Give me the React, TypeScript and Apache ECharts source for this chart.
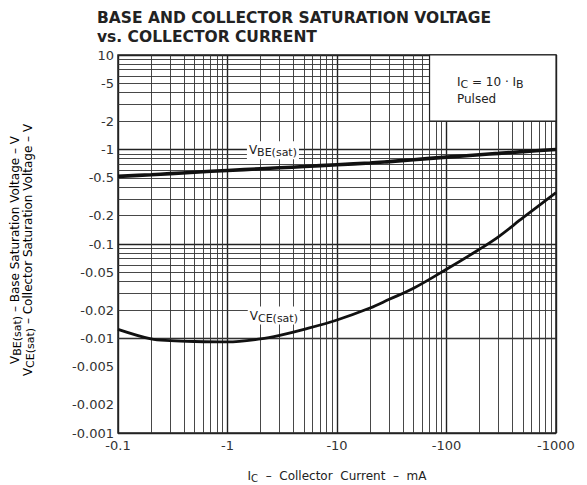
import React, { useEffect, useRef } from 'react';
import * as echarts from 'echarts';

// Collector current (mA, magnitude)
const currents = [0.1, 0.2, 0.3, 0.5, 1, 2, 3, 5, 10, 20, 30, 50, 100, 200, 300, 500, 1000];
// VBE(sat) (V, magnitude)
const vbeSat = [0.52, 0.54, 0.555, 0.575, 0.6, 0.625, 0.64, 0.66, 0.69, 0.72, 0.745, 0.78, 0.83, 0.88, 0.91, 0.95, 1.0];
// VCE(sat) (V, magnitude)
const vceSat = [0.0125, 0.0099, 0.0095, 0.0093, 0.0092, 0.0099, 0.0108, 0.0125, 0.0157, 0.021, 0.026, 0.034, 0.054, 0.088, 0.12, 0.19, 0.35];

const xTickValues = [0.1, 1, 10, 100, 1000];
const xTickLabels = ['-0.1', '-1', '-10', '-100', '-1000'];
const yTickValues = [0.001, 0.002, 0.005, 0.01, 0.02, 0.05, 0.1, 0.2, 0.5, 1, 2, 5, 10];
const yTickLabels = ['-0.001', '-0.002', '-0.005', '-0.01', '-0.02', '-0.05', '-0.1', '-0.2', '-0.5', '-1', '-2', '-5', '10'];

const xDecades = [0.1, 1, 10, 100];
const yDecades = [0.001, 0.01, 0.1, 1];
const minorSteps = [2, 3, 4, 5, 6, 7, 8, 9];

const FONT = 'DejaVu Sans';
const INK = '#222';

function nearestLabel(v: number, values: number[], labels: string[]) {
  let best = 0;
  let bd = Infinity;
  values.forEach((t, i) => {
    const d = Math.abs(Math.log10(v) - Math.log10(t));
    if (d < bd) { bd = d; best = i; }
  });
  return bd < 0.01 ? labels[best] : '';
}

export default function App() {
  const ref = useRef<HTMLDivElement>(null);

  useEffect(() => {
    if (!ref.current) return;
    const chart = echarts.init(ref.current, undefined, { renderer: 'svg' });

    const minorX: any[] = [];
    xDecades.forEach((d) => minorSteps.forEach((m) => minorX.push({ xAxis: Number((d * m).toPrecision(6)) })));
    const minorY: any[] = [];
    yDecades.forEach((d) => minorSteps.forEach((m) => minorY.push({ yAxis: Number((d * m).toPrecision(6)) })));

    const subRich = {
      v: { fontSize: 12, fontFamily: FONT, color: INK },
      s: { fontSize: 11, fontFamily: FONT, color: INK, padding: [5, 0, 0, 0] },
      t: { fontSize: 12, fontFamily: FONT, color: INK },
    };

    const titleStyle = { fontFamily: FONT, fontSize: 15.5, fontWeight: 'bold', color: INK, lineHeight: 16 };

    chart.setOption({
      animation: false,
      backgroundColor: '#fff',
      title: {
        text: 'BASE AND COLLECTOR SATURATION VOLTAGE',
        subtext: 'vs. COLLECTOR CURRENT',
        left: 92,
        top: 5,
        itemGap: 3,
        textStyle: titleStyle,
        subtextStyle: titleStyle,
      },
      grid: {
        left: 118, right: 31, top: 55, bottom: 52,
        outerBoundsMode: 'none',
        containLabel: false,
        show: true, borderColor: INK, borderWidth: 1.5, backgroundColor: 'transparent',
      },
      xAxis: {
        type: 'log',
        logBase: 10,
        min: 0.1,
        max: 1000,
        axisLine: { show: false },
        axisTick: { show: false },
        splitLine: { show: true, lineStyle: { color: INK, width: 1.4 } },
        axisLabel: {
          fontFamily: FONT, fontSize: 13, color: '#333', margin: 6,
          formatter: (v: number) => nearestLabel(v, xTickValues, xTickLabels),
        },
        name: '{i|I}{c|C}{t|  –  Collector  Current  –  mA}',
        nameLocation: 'middle',
        nameGap: 35,
        nameTextStyle: {
          rich: {
            i: { fontSize: 12, fontFamily: FONT, color: INK },
            c: { fontSize: 10, fontFamily: FONT, color: INK, padding: [5, 0, 0, 0] },
            t: { fontSize: 12, fontFamily: FONT, color: INK },
          },
        },
      },
      yAxis: {
        type: 'log',
        logBase: 10,
        min: 0.001,
        max: 10,
        axisLine: { show: false },
        axisTick: { show: false },
        splitLine: { show: true, lineStyle: { color: INK, width: 1.4 } },
        axisLabel: {
          fontFamily: FONT, fontSize: 13, color: '#333', margin: 4,
          customValues: yTickValues,
          showMinLabel: true, showMaxLabel: true,
          formatter: (v: number) => nearestLabel(v, yTickValues, yTickLabels),
        },
      },
      graphic: [
        {
          type: 'text', x: 15, y: 250, rotation: Math.PI / 2,
          style: {
            text: '{v|V}{s|BE(sat)}{t| – Base Saturation Voltage – V}',
            rich: subRich, align: 'center', verticalAlign: 'middle',
          },
        },
        {
          type: 'text', x: 28, y: 250, rotation: Math.PI / 2,
          style: {
            text: '{v|V}{s|CE(sat)}{t| – Collector Saturation Voltage – V}',
            rich: subRich, align: 'center', verticalAlign: 'middle',
          },
        },
      ],
      series: [
        {
          name: 'grid',
          type: 'line',
          data: [],
          z: 1,
          silent: true,
          markLine: {
            silent: true,
            z: 1,
            symbol: ['none', 'none'],
            label: { show: false },
            lineStyle: { type: 'solid', color: '#333', width: 1, opacity: 0.9 },
            data: [...minorX, ...minorY],
          },
        },
        {
          name: 'note',
          type: 'line',
          data: [],
          silent: true,
          markArea: {
            silent: true,
            z: 4,
            itemStyle: { color: '#fff', borderColor: INK, borderWidth: 1.2 },
            label: {
              show: true,
              position: [28, 19],
              align: 'left',
              verticalAlign: 'top',
              formatter: '{i|I}{c|C}{t| = 10 · }{i|I}{c|B}\n{t|Pulsed}',
              rich: {
                i: { fontSize: 12, fontFamily: FONT, color: INK, lineHeight: 17 },
                c: { fontSize: 11, fontFamily: FONT, color: INK, padding: [5, 0, 0, 0], lineHeight: 17 },
                t: { fontSize: 12, fontFamily: FONT, color: INK, lineHeight: 17 },
              },
            },
            data: [[{ xAxis: 70, yAxis: 2 }, { xAxis: 1000, yAxis: 10 }]],
          },
        },
        {
          name: 'VBE(sat)',
          type: 'line',
          z: 3,
          smooth: 0.35,
          symbol: 'none',
          lineStyle: { color: '#111', width: 3.6 },
          data: currents.map((c, i) => [c, vbeSat[i]]),
          markPoint: {
            z: 5,
            symbol: 'rect',
            symbolSize: 0,
            label: {
              show: true,
              position: 'inside',
              formatter: '{v|V}{s|BE(sat)}',
              backgroundColor: '#fff',
              padding: [1, 2, 1, 2],
              rich: subRich,
            },
            data: [{ coord: [2.6, 0.98] }],
          },
        },
        {
          name: 'VCE(sat)',
          type: 'line',
          z: 3,
          smooth: 0.35,
          symbol: 'none',
          lineStyle: { color: '#111', width: 2.8 },
          data: currents.map((c, i) => [c, vceSat[i]]),
          markPoint: {
            z: 5,
            symbol: 'rect',
            symbolSize: 0,
            label: {
              show: true,
              position: 'inside',
              formatter: '{v|V}{s|CE(sat)}',
              backgroundColor: '#fff',
              padding: [1, 2, 1, 2],
              rich: subRich,
            },
            data: [{ coord: [2.65, 0.0175] }],
          },
        },
      ],
    });

    return () => chart.dispose();
  }, []);

  return <div ref={ref} style={{ width: 587, height: 485, position: 'absolute', left: 0, top: 0 }} />;
}
